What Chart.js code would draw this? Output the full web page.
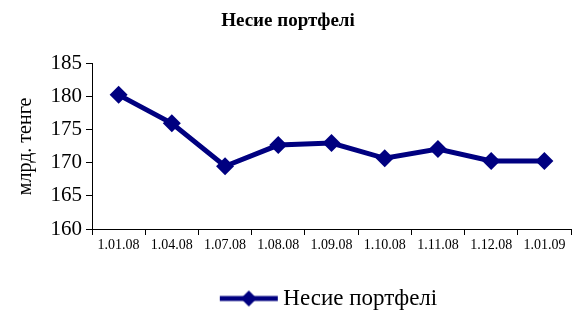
<!DOCTYPE html>
<html>
<head>
<meta charset="utf-8">
<script src="https://cdn.jsdelivr.net/npm/chart.js@4"></script>
<style>
  html, body { margin: 0; padding: 0; background: #fff; }
  #wrap { width: 580px; height: 312px; }
</style>
</head>
<body>
<div id="wrap"><canvas id="chart" width="580" height="312"></canvas></div>
<script>
// Несие портфелі, млрд. тенге
const dates = ['1.01.08', '1.04.08', '1.07.08', '1.08.08', '1.09.08', '1.10.08', '1.11.08', '1.12.08', '1.01.09'];
const portfolio = [180.3, 176.0, 169.5, 172.7, 173.0, 170.7, 172.1, 170.3, 170.3];
const yTicks = [160, 165, 170, 175, 180, 185];

const navy = '#000080';
const serif = "'Liberation Serif', 'Times New Roman', serif";

// legend marker: line with a diamond in the middle
const legendIcon = document.createElement('canvas');
legendIcon.width = 60;
legendIcon.height = 18;
(function () {
  const c = legendIcon.getContext('2d');
  c.strokeStyle = navy;
  c.lineWidth = 5;
  c.beginPath();
  c.moveTo(1, 9);
  c.lineTo(59, 9);
  c.stroke();
  c.fillStyle = navy;
  c.beginPath();
  c.moveTo(30, 1);
  c.lineTo(38, 9);
  c.lineTo(30, 17);
  c.lineTo(22, 9);
  c.closePath();
  c.fill();
})();

// legend is centred under the plot area, not the whole canvas
const legendUnderPlot = {
  id: 'legendUnderPlot',
  afterLayout(chart) {
    const lg = chart.legend;
    if (!lg) return;
    lg.left = chart.chartArea.left;
    lg.right = chart.chartArea.right;
  }
};

new Chart(document.getElementById('chart'), {
  type: 'line',
  data: {
    labels: dates,
    datasets: [{
      label: 'Несие портфелі',
      data: portfolio,
      borderColor: navy,
      backgroundColor: navy,
      borderWidth: 5,
      tension: 0,
      pointStyle: 'rectRot',
      pointRadius: 9,
      pointHoverRadius: 9,
      pointBorderWidth: 0
    }]
  },
  plugins: [legendUnderPlot],
  options: {
    responsive: false,
    animation: false,
    layout: { padding: { left: 0, right: 4, top: 0, bottom: -8 } },
    plugins: {
      title: {
        display: true,
        text: 'Несие портфелі',
        color: '#000',
        font: { family: serif, size: 19, weight: 'bold' },
        padding: { top: 10, bottom: 31 }
      },
      legend: {
        position: 'bottom',
        labels: {
          usePointStyle: true,
          pointStyleWidth: 46,
          generateLabels: (chart) => [{
            text: 'Несие портфелі',
            pointStyle: legendIcon,
            fontColor: '#000',
            datasetIndex: 0,
            hidden: false
          }],
          color: '#000',
          font: { family: serif, size: 23 },
          padding: 4
        }
      },
      tooltip: { enabled: false }
    },
    scales: {
      x: {
        offset: true,
        afterFit: (scale) => { scale.height = 54; },
        grid: {
          offset: true,
          drawOnChartArea: false,
          drawTicks: true,
          tickLength: 6,
          color: '#000'
        },
        border: { color: '#000', width: 1 },
        ticks: {
          color: '#000',
          font: { family: serif, size: 14 },
          maxRotation: 0,
          autoSkip: false,
          padding: 2
        }
      },
      y: {
        min: 160,
        max: 185,
        afterBuildTicks: (scale) => { scale.ticks = yTicks.map(v => ({ value: v })); },
        afterFit: (scale) => { scale.width = 92; },
        grid: {
          drawOnChartArea: false,
          drawTicks: true,
          tickLength: 6,
          color: '#000'
        },
        border: { color: '#000', width: 1 },
        title: {
          display: true,
          text: 'млрд. тенге',
          color: '#000',
          font: { family: serif, size: 20 },
          padding: { top: 14, bottom: 0 }
        },
        ticks: {
          color: '#000',
          font: { family: serif, size: 21 },
          padding: 4
        }
      }
    }
  }
});
</script>
</body>
</html>
